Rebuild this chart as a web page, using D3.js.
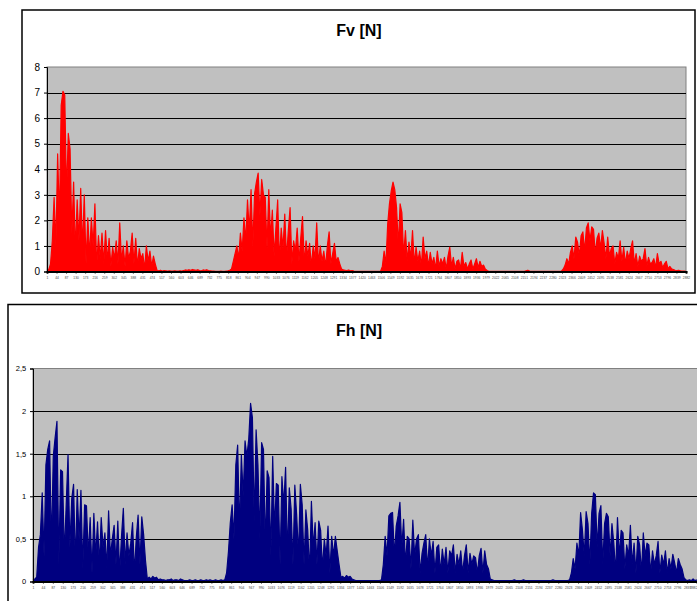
<!DOCTYPE html>
<html><head><meta charset="utf-8">
<script src="https://cdn.jsdelivr.net/npm/d3@7"></script>
<style>body{margin:0;background:#fff}svg{display:block}text{font-family:"Liberation Sans",Arial,sans-serif}</style>
</head><body><svg id="c" width="697" height="601"></svg>
<script>
// category labels on the x axis (every 43rd sample)
const xTickLabels = [1,44,87,130,173,216,259,302,345,388,431,474,517,560,603,646,689,732,775,818,861,904,947,990,1033,1076,1119,1162,1205,1248,1291,1334,1377,1420,1463,1506,1549,1592,1635,1678,1721,1764,1807,1850,1893,1936,1979,2022,2065,2108,2151,2194,2237,2280,2323,2366,2409,2452,2495,2538,2581,2624,2667,2710,2753,2796,2839,2882];
const sampleIndex = d3.range(361).map(k => 1 + 8 * k);

const fvTicks = [0,1,2,3,4,5,6,7,8];
const fhTicks = [0,0.5,1,1.5,2,2.5];

// Fv [N]
const fvValues = [
0.05,0.08,0.3,1.2,2.9,1.0,4.6,2.0,6.5,7.05,
6.9,3.0,5.4,4.8,1.5,3.5,0.8,2.8,1.2,3.25,
0.9,3.0,0.3,2.1,0.6,2.1,1.0,2.65,0.2,1.4,
0.5,1.5,0.3,1.6,0.4,1.3,0.2,0.95,0.5,1.2,
0.3,1.9,0.4,1.0,0.2,1.2,0.5,0.8,1.5,0.3,
1.3,0.2,0.9,0.5,0.7,0.1,1.0,0.4,0.8,0.2,
0.6,0.3,0.05,0.03,0.05,0.02,0.04,0.03,0.02,0.03,
0.02,0.02,0.03,0.02,0.02,0.03,0.02,0.04,0.06,0.05,
0.07,0.05,0.08,0.06,0.05,0.07,0.04,0.03,0.06,0.05,
0.07,0.04,0.03,0.02,0.02,0.01,0.01,0.01,0.02,0.01,
0.01,0.02,0.03,0.05,0.1,0.4,0.7,1.0,0.5,1.5,
0.8,2.1,1.2,2.8,1.6,3.2,1.0,3.05,3.5,3.85,
2.2,3.6,3.0,2.9,0.9,3.2,1.3,2.4,0.6,1.7,
2.8,0.4,1.7,0.9,2.25,0.5,1.6,2.5,0.3,1.2,
0.8,1.7,0.4,1.3,2.15,0.3,1.2,0.6,1.1,0.2,
1.0,0.5,1.9,0.3,1.0,0.4,0.8,0.2,1.0,1.55,
0.3,0.7,1.1,0.4,0.55,0.3,0.1,0.06,0.05,0.04,
0.06,0.03,0.04,0.02,0.01,0.01,0.01,0.01,0.01,0.01,
0.01,0.01,0.01,0.01,0.01,0.01,0.01,0.01,0.01,0.2,
0.8,0.3,1.85,2.65,3.15,3.5,3.2,2.5,1.0,2.65,
2.3,0.6,1.6,0.4,1.15,0.5,1.6,0.3,0.95,0.4,
0.8,0.2,1.35,0.5,0.8,0.2,0.75,0.3,0.55,0.1,
0.8,0.2,0.5,0.3,0.55,0.1,0.6,0.95,0.2,0.55,
0.1,0.4,0.45,0.1,0.75,0.2,0.35,0.1,0.3,0.45,
0.1,0.3,0.5,0.15,0.4,0.2,0.25,0.1,0.04,0.01,
0.01,0.01,0.01,0.01,0.01,0.01,0.01,0.01,0.01,0.01,
0.01,0.01,0.01,0.01,0.01,0.01,0.01,0.01,0.01,0.01,
0.03,0.05,0.02,0.01,0.01,0.01,0.01,0.01,0.01,0.01,
0.01,0.01,0.01,0.01,0.01,0.01,0.01,0.01,0.01,0.01,
0.02,0.1,0.25,0.5,0.3,0.75,1.0,0.5,1.35,1.15,
0.6,1.4,1.55,0.8,1.7,1.9,1.2,1.75,1.65,0.7,
1.3,1.5,0.9,1.6,1.1,0.5,1.35,0.6,0.9,1.0,
0.3,0.75,0.5,1.2,0.4,0.95,0.3,0.8,0.5,0.9,
1.2,0.3,0.7,0.2,0.6,0.4,0.5,0.9,0.2,0.55,
0.3,0.35,0.5,0.15,0.7,0.3,0.4,0.15,0.3,0.4,
0.1,0.2,0.1,0.08,0.05,0.04,0.05,0.03,0.02,0.02,
0.01
];

// Fh [N]
const fhValues = [
0.02,0.03,0.05,0.4,0.55,1.04,0.3,1.37,1.55,1.65,
0.4,1.47,1.69,1.88,0.2,1.31,1.29,0.3,0.9,1.49,
0.4,0.97,1.14,0.2,1.08,0.5,1.07,0.15,0.9,0.89,
0.3,0.75,0.1,0.8,0.3,0.7,0.2,0.75,0.4,0.57,
0.15,0.83,0.3,0.5,0.66,0.2,0.71,0.1,0.53,0.86,
0.2,0.57,0.3,0.45,0.69,0.1,0.51,0.78,0.2,0.76,
0.55,0.25,0.03,0.05,0.03,0.06,0.04,0.05,0.02,0.03,
0.02,0.02,0.01,0.02,0.02,0.03,0.01,0.02,0.02,0.01,
0.03,0.02,0.01,0.01,0.01,0.02,0.01,0.01,0.02,0.01,
0.01,0.02,0.01,0.01,0.02,0.01,0.02,0.01,0.01,0.02,
0.01,0.01,0.02,0.01,0.02,0.1,0.35,0.69,0.9,0.5,
1.37,1.6,0.6,1.49,1.0,1.65,1.47,1.67,2.09,1.92,
0.7,1.78,1.37,0.5,1.63,1.55,0.4,1.3,1.22,0.3,
1.47,0.6,1.15,1.13,0.2,1.23,0.9,1.34,0.3,1.1,
0.85,0.2,1.13,0.78,0.3,1.14,0.9,0.2,0.84,0.6,
0.1,0.94,0.4,0.69,0.2,0.71,0.6,0.15,0.5,0.3,
0.65,0.1,0.53,0.3,0.53,0.36,0.2,0.05,0.06,0.04,
0.07,0.05,0.06,0.03,0.02,0.01,0.01,0.01,0.01,0.01,
0.01,0.01,0.01,0.01,0.01,0.01,0.01,0.01,0.01,0.02,
0.2,0.53,0.3,0.77,0.8,0.81,0.3,0.65,0.77,0.93,
0.4,0.73,0.2,0.53,0.5,0.15,0.72,0.3,0.5,0.55,
0.1,0.33,0.45,0.55,0.15,0.5,0.3,0.47,0.1,0.4,
0.43,0.1,0.38,0.2,0.4,0.1,0.36,0.3,0.43,0.1,
0.32,0.2,0.36,0.1,0.3,0.43,0.1,0.33,0.2,0.3,
0.28,0.1,0.3,0.39,0.1,0.36,0.2,0.15,0.03,0.02,
0.01,0.01,0.01,0.01,0.01,0.01,0.01,0.01,0.01,0.01,
0.01,0.02,0.01,0.01,0.01,0.01,0.02,0.01,0.01,0.01,
0.01,0.01,0.01,0.01,0.01,0.01,0.01,0.01,0.01,0.01,
0.01,0.01,0.02,0.01,0.01,0.01,0.01,0.01,0.01,0.01,
0.01,0.02,0.1,0.27,0.15,0.45,0.3,0.81,0.6,0.3,
0.82,0.68,0.2,0.8,1.04,1.02,0.4,0.8,0.89,0.2,
0.68,0.8,0.76,0.3,0.68,0.45,0.1,0.75,0.3,0.6,
0.57,0.15,0.43,0.3,0.66,0.2,0.45,0.1,0.53,0.43,
0.1,0.57,0.3,0.45,0.43,0.1,0.36,0.2,0.3,0.47,
0.1,0.31,0.2,0.36,0.1,0.27,0.15,0.32,0.22,0.1,
0.27,0.2,0.15,0.05,0.02,0.01,0.02,0.01,0.03,0.01,
0.02
];

const svg = d3.select("#c");

function drawChart(o) {
  const g = svg.append("g");
  g.append("rect").attr("x", o.box[0]).attr("y", o.box[1]).attr("width", o.box[2]).attr("height", o.box[3])
    .attr("fill", "#fff").attr("stroke", "#000").attr("stroke-width", 1.5);
  const x = d3.scaleLinear().domain([1, 2882]).range([o.left, o.right]);
  const y = d3.scaleLinear().domain([0, o.yMax]).range([o.bottom, o.top]);
  g.append("rect").attr("x", o.left).attr("y", o.top).attr("width", o.plotW).attr("height", o.bottom - o.top)
    .attr("fill", "#c0c0c0").attr("stroke", "#808080").attr("stroke-width", 1);
  g.append("g").selectAll("line").data(o.ticks.filter(t => t > 0 && t < o.yMax)).join("line")
    .attr("x1", o.left).attr("x2", o.left + o.plotW)
    .attr("y1", d => Math.round(y(d)) + 0.5).attr("y2", d => Math.round(y(d)) + 0.5)
    .attr("stroke", "#000").attr("stroke-width", 1.2);
  const area = d3.area().x((d, i) => x(sampleIndex[i])).y0(y(0)).y1(d => y(d));
  const line = d3.line().x((d, i) => x(sampleIndex[i])).y(d => y(d));
  g.append("path").datum(o.values).attr("d", area).attr("fill", o.color).attr("stroke", "none");
  g.append("path").datum(o.values).attr("d", line).attr("fill", "none")
    .attr("stroke", o.color).attr("stroke-width", 1.2).attr("stroke-linejoin", "round");
  const ya = g.append("g").attr("transform", `translate(${o.left},0)`)
    .call(d3.axisLeft(y).tickValues(o.ticks).tickSize(3).tickFormat(o.fmt));
  ya.select(".domain").attr("stroke", "#000");
  ya.selectAll("line").attr("stroke", "#000");
  ya.selectAll("text").attr("font-size", o.yFont).attr("fill", "#000").attr("font-family", "Liberation Sans, Arial, sans-serif").attr("dx", "-0.1em");
  const xa = g.append("g").attr("transform", `translate(0,${o.bottom})`)
    .call(d3.axisBottom(x).tickValues(xTickLabels).tickSize(2).tickPadding(3).tickFormat(d3.format("d")));
  xa.select(".domain").attr("stroke", "#000").attr("stroke-width", 2.2);
  xa.selectAll("line").attr("stroke", "#000");
  xa.selectAll("text").attr("font-size", 3.3).attr("fill", "#444").attr("font-family", "Liberation Sans, Arial, sans-serif")
    .attr("text-anchor", d => (x(d) > 692 ? "end" : "middle"))
    .attr("x", d => (x(d) > 692 ? 697 - x(d) : 0));
  g.append("text").attr("x", o.titleX).attr("y", o.titleY).attr("text-anchor", "middle")
    .attr("font-size", 16).attr("font-weight", "bold").attr("fill", "#000").text(o.title);
}

drawChart({
  box: [22, 10, 673, 283], left: 47, right: 686, plotW: 639, top: 67, bottom: 271.5,
  yMax: 8, ticks: fvTicks, fmt: d3.format("d"), yFont: 10, values: fvValues, color: "#ff0000",
  title: "Fv [N]", titleX: 359, titleY: 36
});
drawChart({
  box: [8, 304.5, 710, 320], left: 33, right: 697, plotW: 680, top: 368.5, bottom: 581.5,
  yMax: 2.5, ticks: fhTicks, fmt: d => d3.format("")(d).replace(".", ","), yFont: 7.5, values: fhValues, color: "#000080",
  title: "Fh [N]", titleX: 359, titleY: 336
});
</script></body></html>
